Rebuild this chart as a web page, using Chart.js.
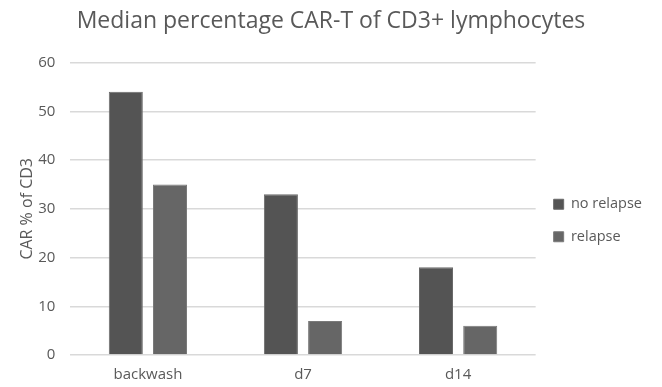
<!DOCTYPE html>
<html>
<head>
<meta charset="utf-8">
<script src="https://cdn.jsdelivr.net/npm/chart.js@4"></script>
<style>
  html, body { margin: 0; padding: 0; background: #fff; }
  #wrap { width: 662px; height: 387px; }
</style>
</head>
<body>
<div id="wrap"><canvas id="chart" width="662" height="387"></canvas></div>
<script>
// values
const categories = ['backwash', 'd7', 'd14'];
const noRelapse = [54, 33, 18];
const relapse = [35, 7, 6];
const yTicks = [0, 10, 20, 30, 40, 50, 60];

const FONT = "'Open Sans', 'Liberation Sans', sans-serif";
const GREY = '#595959';

new Chart(document.getElementById('chart'), {
  type: 'bar',
  data: {
    labels: categories,
    datasets: [
      { label: 'no relapse', data: noRelapse, backgroundColor: '#545454', borderColor: '#6a6a6a', borderWidth: 1 },
      { label: 'relapse', data: relapse, backgroundColor: '#666666', borderColor: '#7a7a7a', borderWidth: 1 }
    ]
  },
  options: {
    responsive: false,
    animation: false,
    datasets: { bar: { categoryPercentage: 0.57, barPercentage: 0.77 } },
    layout: { padding: { left: 10, right: 10, top: 0, bottom: -8 } },
    plugins: {
      title: {
        display: true,
        text: 'Median percentage CAR-T of CD3+ lymphocytes',
        color: GREY,
        font: { family: FONT, size: 23, weight: 'normal' },
        padding: { top: 8, bottom: 27 }
      },
      legend: {
        position: 'right',
        // empty title only pushes the two items down to where they sit in the original
        title: { display: true, text: '', font: { size: 10 }, padding: { top: 34, bottom: 0 } },
        labels: {
          color: GREY,
          font: { family: FONT, size: 14.5 },
          boxWidth: 10, boxHeight: 10,
          padding: 18
        }
      },
      tooltip: { enabled: false }
    },
    scales: {
      x: {
        grid: { display: false, drawTicks: false },
        border: { display: false },
        ticks: { color: GREY, font: { family: FONT, size: 15 }, padding: 11 }
      },
      y: {
        min: 0, max: 60,
        afterBuildTicks: axis => { axis.ticks = yTicks.map(v => ({ value: v })); },
        grid: { color: '#d9d9d9', lineWidth: 1.5, drawTicks: false },
        border: { display: false },
        ticks: { color: GREY, font: { family: FONT, size: 15 }, padding: 15 },
        title: {
          display: true,
          text: 'CAR % of CD3',
          color: GREY,
          font: { family: FONT, size: 16 },
          padding: { top: 8, bottom: -14 }
        }
      }
    }
  }
});
</script>
</body>
</html>
